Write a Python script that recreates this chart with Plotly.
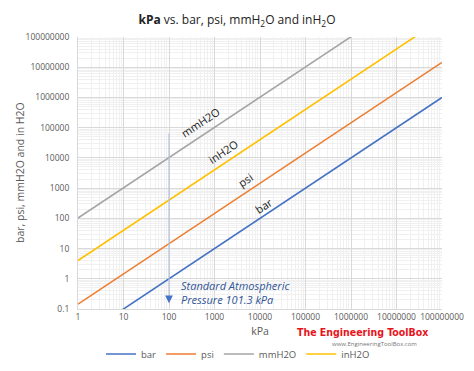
import plotly.graph_objects as go
import math

kpa = [1, 10, 100, 1000, 10000, 100000, 1000000, 10000000, 100000000]
bar = [0.01, 0.1, 1, 10, 100, 1000, 10000, 100000, 1000000]
psi = [0.145, 1.45, 14.5, 145, 1450, 14500, 145000, 1450000, 14500000]
mmh2o = [102, 1020, 10200, 102000, 1020000, 10200000, 102000000, 1020000000, 10200000000]
inh2o = [4.01, 40.1, 401, 4010, 40100, 401000, 4010000, 40100000, 401000000]

series = [("bar", bar, "#4472C4"), ("psi", psi, "#ED7D31"),
          ("mmH2O", mmh2o, "#A5A5A5"), ("inH2O", inh2o, "#FFC000")]

x_ticks = [1, 10, 100, 1000, 10000, 100000, 1000000, 10000000, 100000000]
x_ticktext = ["1", "10", "100", "1000", "10000", "100000", "1000000", "10000000", "100000000"]
y_ticks = [0.1, 1, 10, 100, 1000, 10000, 100000, 1000000, 10000000, 100000000]
y_ticktext = ["0.1", "1", "10", "100", "1000", "10000", "100000", "1000000", "10000000", "100000000"]

# line labels: (text, kPa position, value position)
labels = [("mmH2O", 480, 145000), ("inH2O", 1550, 16000), ("psi", 4900, 1900), ("bar", 12300, 260)]

minor_x = [m * 10 ** e for e in range(0, 8) for m in range(2, 10)]
minor_y = [m * 10 ** e for e in range(-1, 8) for m in range(2, 10)]

fig = go.Figure()
for name, vals, col in series:
    fig.add_trace(go.Scatter(x=kpa, y=vals, mode="lines", name=name,
                             line=dict(color=col, width=1.6)))

font_fam = "Open Sans, Liberation Sans, sans-serif"
PL, PT, PW, PH = 78, 37, 364, 272  # plot area in page pixels (page has 8px body margin)
W, H = 458, 355
ann = []
for t, xv, yv in labels:
    ann.append(dict(x=math.log10(xv), y=math.log10(yv), text=t, showarrow=False,
                    textangle=-33.6, font=dict(size=11, color="#222222", family=font_fam)))

# standard atmospheric pressure arrow (thin line + dark head)
ann.append(dict(x=2, y=math.log10(0.2), ax=2, ay=math.log10(72000), axref="x", ayref="y",
                xref="x", yref="y", showarrow=True, arrowhead=0, arrowwidth=1.2,
                arrowcolor="#B4C3E0", text=""))
ann.append(dict(x=2, y=math.log10(0.155), ax=2, ay=math.log10(0.3), axref="x", ayref="y",
                xref="x", yref="y", showarrow=True, arrowhead=2, arrowsize=1.3, arrowwidth=1.2,
                arrowcolor="#4472C4", text=""))
ann.append(dict(x=math.log10(170), y=math.log10(0.36), xanchor="left", yanchor="middle",
                text="<i>Standard Atmospheric<br>Pressure 101.3 kPa</i>", showarrow=False, align="left",
                font=dict(size=11, color="#2F5597", family=font_fam)))
# watermark
ann.append(dict(xref="paper", yref="paper", x=(362 - PL) / PW, y=-(332 - 309) / PH,
                xanchor="center", yanchor="middle", text="The Engineering ToolBox", showarrow=False,
                font=dict(size=10.5, color="#E8141B", family="DejaVu Sans Condensed, DejaVu Sans",
                          weight="bold")))
ann.append(dict(xref="paper", yref="paper", x=(374 - PL) / PW, y=-(344 - 309) / PH,
                xanchor="center", yanchor="middle", text="www.EngineeringToolBox.com", showarrow=False,
                font=dict(size=6, color="#777777", family=font_fam)))
# y-axis title
ann.append(dict(xref="paper", yref="paper", x=-(PL - 20) / PW, y=0.5, xanchor="center", yanchor="middle",
                text="bar, psi, mmH2O and in H2O", textangle=-90, showarrow=False,
                font=dict(size=10.5, color="#595959", family=font_fam)))

fig.update_layout(
    width=W, height=H,
    margin=dict(l=PL - 8, r=W - (PL - 8) - PW, t=PT - 8, b=H - (PT - 8) - PH),
    paper_bgcolor="white", plot_bgcolor="white",
    title=dict(text="<b>kPa</b> vs. bar, psi, mmH<sub>2</sub>O and inH<sub>2</sub>O",
               x=(237 - 8) / W, xanchor="center", y=1 - (20 - 8) / H, yanchor="middle",
               font=dict(size=12, color="#222222", family=font_fam)),
    font=dict(family=font_fam, color="#595959", size=10),
    showlegend=True,
    legend=dict(orientation="h", x=(238 - PL) / PW, xanchor="center",
                yref="container", y=1 - (354 - 8) / H, yanchor="middle",
                font=dict(size=9.5, color="#595959"), itemwidth=30, tracegroupgap=0),
    annotations=ann,
)
fig.update_xaxes(type="log", range=[0, 8], tickvals=x_ticks, ticktext=x_ticktext, tickangle=0,
                 automargin=False,
                 showgrid=True, gridcolor="#D9D9D9", gridwidth=1,
                 minor=dict(tickvals=minor_x, showgrid=True, gridcolor="#F0F0F0", ticks=""),
                 showline=True, linecolor="#D9D9D9", ticks="", zeroline=False,
                 title=dict(text="kPa", font=dict(size=10.5, color="#595959"), standoff=6),
                 tickfont=dict(size=8.5, color="#595959"))
fig.update_yaxes(type="log", range=[-1, 8], tickvals=y_ticks, ticktext=y_ticktext,
                 automargin=False, ticklabelstandoff=6,
                 showgrid=True, gridcolor="#D9D9D9", gridwidth=1,
                 minor=dict(tickvals=minor_y, showgrid=True, gridcolor="#F0F0F0", ticks=""),
                 showline=True, linecolor="#D9D9D9", ticks="", zeroline=False,
                 tickfont=dict(size=8.5, color="#595959"))

fig.write_html("out.html")
